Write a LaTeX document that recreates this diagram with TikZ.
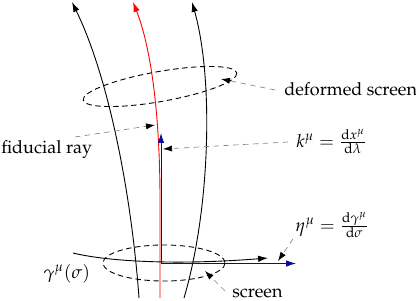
\documentclass[tikz,border=0pt]{standalone}
\usepackage[T1]{fontenc}
\usepackage{mathpazo}
\usetikzlibrary{arrows.meta}
\definecolor{vecblue}{RGB}{10,10,150}
\begin{document}
\begin{tikzpicture}[x=0.556pt,y=-0.556pt,
  curve/.style={line width=0.5pt,-{Latex[length=5.5pt,width=3.6pt]}},
  annot/.style={gray,dash pattern=on 3pt off 2.5pt,line width=0.35pt,-{Latex[length=5pt,width=3.4pt,color=black]}},
  scr/.style={line width=0.5pt,dash pattern=on 3pt off 2pt},
  lbl/.style={inner sep=0pt,anchor=base west}]
\useasboundingbox (0,0) rectangle (416,300);
% rays
\coordinate (l0) at (139,298); \coordinate (l1) at (72,2);
\coordinate (r0) at (184,298); \coordinate (r1) at (192,2);
\coordinate (f0) at (160,298); \coordinate (fm) at (160,200); \coordinate (f1) at (133,2);
\draw[curve] (l0) .. controls (132,200) and (110,80) .. (l1);
\draw[curve] (r0) .. controls (210,210) and (214,80) .. (r1);
\draw[curve,red] (f0) -- (fm) .. controls (160,120) and (152,50) .. (f1);
% gamma curve
\coordinate (g0) at (73,253); \coordinate (g1) at (268,258);
\draw[curve] (g0) .. controls (110,262) and (180,265) .. (g1);
% tangent vectors
\coordinate (o) at (161,263.5);
\coordinate (kt) at (161,133);
\coordinate (et) at (296,263.5);
\draw[curve,vecblue] (o) -- (kt);
\draw[curve,vecblue] (o) -- (et);
% screens
\draw[scr] (164,263) ellipse [x radius=61, y radius=18];
\draw[scr,rotate around={10:(160,86.5)}] (160,86.5) ellipse [x radius=78, y radius=15];
% labels
\node[lbl] (ds) at (284,95) {deformed screen};
\node[lbl] (fr) at (1,153) {fiducial ray};
\node[lbl] (kl) at (296,147) {$k^\mu=\frac{\mathrm{d}x^\mu}{\mathrm{d}\lambda}$};
\node[lbl] (el) at (295,231) {$\eta^\mu=\frac{\mathrm{d}\gamma^\mu}{\mathrm{d}\sigma}$};
\node[lbl] (sl) at (232,297) {screen};
\node[lbl] (gl) at (43,278) {$\gamma^\mu(\sigma)$};
% annotation arrows
\coordinate (dsA) at (275,90); \coordinate (dsB) at (221,79);
\coordinate (frA) at (75,137); \coordinate (frB) at (155,125);
\coordinate (klA) at (288,142); \coordinate (klB) at (163,149);
\coordinate (elA) at (293,239); \coordinate (elB) at (278,261);
\coordinate (slA) at (225,291); \coordinate (slB) at (205,271);
\draw[annot] (dsA) -- (dsB);
\draw[annot] (frA) -- (frB);
\draw[annot] (klA) -- (klB);
\draw[annot] (elA) -- (elB);
\draw[annot] (slA) -- (slB);
\end{tikzpicture}
\end{document}
